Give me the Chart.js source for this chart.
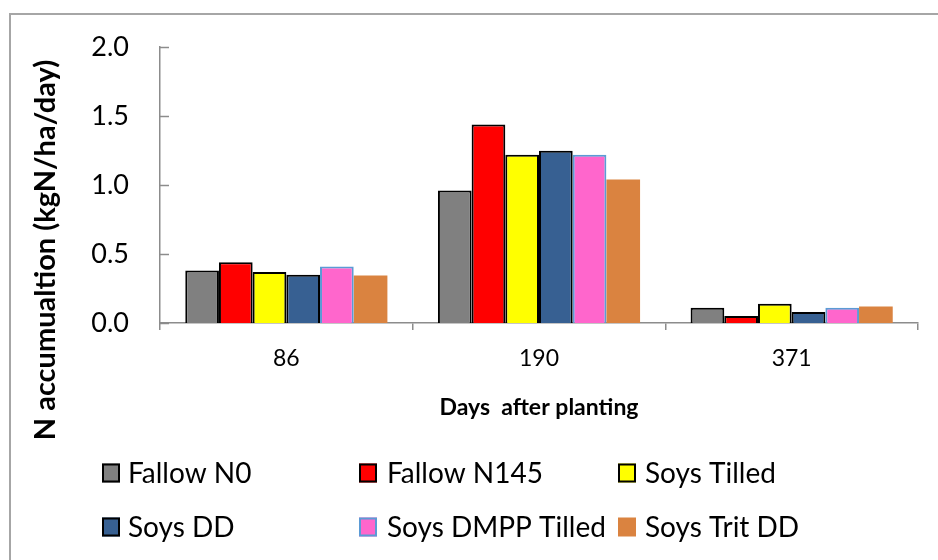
<!DOCTYPE html>
<html>
<head>
<meta charset="utf-8">
<script src="https://cdn.jsdelivr.net/npm/chart.js@4/dist/chart.umd.min.js"></script>
<style>
  html, body { margin: 0; padding: 0; background: #ffffff; }
  #wrap { width: 938px; height: 560px; position: relative; }
</style>
</head>
<body>
<div id="wrap"><canvas id="c" width="938" height="560"></canvas></div>
<script>
// ---- Data ----
const categories = ["86", "190", "371"];
const seriesNames = ["Fallow N0", "Fallow N145", "Soys Tilled", "Soys DD", "Soys DMPP Tilled", "Soys Trit DD"];
const fallowN0      = [0.38, 0.96, 0.11];
const fallowN145    = [0.44, 1.44, 0.05];
const soysTilled    = [0.37, 1.22, 0.14];
const soysDD        = [0.35, 1.25, 0.08];
const soysDMPPTilled= [0.41, 1.22, 0.11];
const soysTritDD    = [0.345, 1.04, 0.12];
const yTicks = [0, 0.5, 1.0, 1.5, 2.0];
const yTitle = "N accumualtion (kgN/ha/day)";
const xTitle = "Days  after planting";

// ---- Styles ----
const fills   = ["#808080", "#FF0000", "#FFFF00", "#376092", "#FF66CC", "#DA8340"];
const borders = ["#000000", "#000000", "#000000", "#000000", "#5B9BD5", "#DA8340"];
const bWidths = [2, 2, 2, 2, 2, 0];
const seriesValues = [fallowN0, fallowN145, soysTilled, soysDD, soysDMPPTilled, soysTritDD];

const axisColor = "#8c8c8c";
const FONT = "Lato, 'Open Sans', sans-serif";

const framePlugin = {
  id: "frame",
  beforeDraw(chart) {
    const ctx = chart.ctx;
    ctx.save();
    ctx.fillStyle = "#ffffff";
    ctx.fillRect(0, 0, chart.width, chart.height);
    ctx.strokeStyle = "#a6a6a6";
    ctx.lineWidth = 2;
    ctx.beginPath();
    ctx.moveTo(10, chart.height);
    ctx.lineTo(10, 14);
    ctx.lineTo(chart.width, 14);
    ctx.stroke();
    ctx.restore();
  }
};

const extrasPlugin = {
  id: "extras",
  afterDraw(chart) {
    const ctx = chart.ctx;
    const ys = chart.scales.y;
    const area = chart.chartArea;
    ctx.save();
    // inside tick marks on y axis
    ctx.strokeStyle = axisColor;
    ctx.lineWidth = 1.5;
    yTicks.forEach(v => {
      const py = Math.round(ys.getPixelForValue(v)) + 0.5;
      ctx.beginPath();
      ctx.moveTo(area.left, py);
      ctx.lineTo(area.left + 9, py);
      ctx.stroke();
    });
    // y title
    ctx.fillStyle = "#000000";
    ctx.font = "bold 29px " + FONT;
    ctx.textAlign = "center";
    ctx.textBaseline = "middle";
    ctx.translate(46, 250);
    ctx.rotate(-Math.PI / 2);
    ctx.fillText(yTitle, 0, 0);
    ctx.restore();

    // legend in a 3-column grid
    ctx.save();
    const colBox = [102, 359, 618];
    const colText = [128, 387, 645];
    const rowY = [473, 527];
    ctx.font = "28px " + FONT;
    ctx.textBaseline = "middle";
    ctx.textAlign = "left";
    chart.data.datasets.forEach((ds, i) => {
      const col = i % 3, row = Math.floor(i / 3);
      const bx = colBox[col], by = rowY[row] - 9.5;
      ctx.fillStyle = ds.backgroundColor;
      ctx.fillRect(bx, by, 18, 19);
      if (ds.borderWidth > 0) {
        ctx.strokeStyle = ds.borderColor;
        ctx.lineWidth = 2;
        ctx.strokeRect(bx + 1, by + 1, 16, 17);
      }
      ctx.fillStyle = "#000000";
      ctx.fillText(ds.label, colText[col], rowY[row] + 1);
    });
    ctx.restore();
  }
};

new Chart(document.getElementById("c"), {
  type: "bar",
  data: {
    labels: categories,
    datasets: seriesNames.map((name, i) => ({
      label: name,
      data: seriesValues[i],
      backgroundColor: fills[i],
      borderColor: borders[i],
      borderWidth: bWidths[i],
      categoryPercentage: 0.8,
      barPercentage: 1.0
    }))
  },
  options: {
    responsive: false,
    animation: false,
    devicePixelRatio: 1,
    layout: { padding: { top: 45, right: 20, left: 0, bottom: 127 } },
    plugins: {
      legend: { display: false },
      tooltip: { enabled: false },
      title: { display: false }
    },
    scales: {
      x: {
        afterFit(s) { s.height = 110; },
        grid: { display: true, drawOnChartArea: false, drawTicks: true, tickLength: 7, color: axisColor, lineWidth: 1.5, offset: true },
        border: { display: true, color: axisColor, width: 1.5 },
        ticks: { color: "#000000", font: { family: FONT, size: 23 }, padding: 15 },
        title: { display: true, text: xTitle, color: "#000000", font: { family: FONT, size: 23, weight: "bold" }, padding: { top: 0, bottom: 12 } }
      },
      y: {
        min: 0,
        max: 2,
        afterFit(s) { s.width = 160; },
        afterBuildTicks(s) { s.ticks = yTicks.map(v => ({ value: v })); },
        grid: { display: false, drawTicks: false },
        border: { display: true, color: axisColor, width: 1.5 },
        ticks: { color: "#000000", font: { family: FONT, size: 27 }, padding: 31, callback: v => Number(v).toFixed(1) }
      }
    }
  },
  plugins: [framePlugin, extrasPlugin]
});
</script>
</body>
</html>
